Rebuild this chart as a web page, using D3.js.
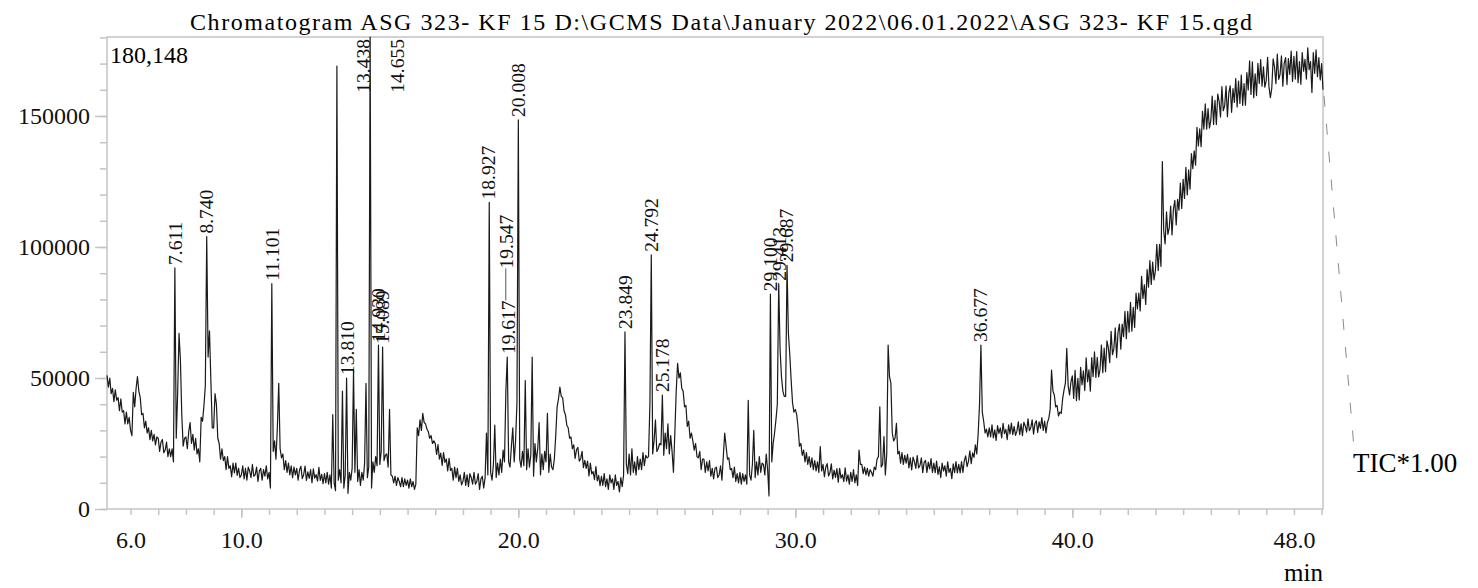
<!DOCTYPE html>
<html lang="en">
<head>
<meta charset="utf-8">
<title>Chromatogram ASG 323- KF 15</title>
<script src="https://cdn.jsdelivr.net/npm/d3@7"></script>
<style>
  body { margin: 0; background: #fff; }
  svg { display: block; }
  svg text { font-family: "Liberation Serif", "Noto Serif", "FreeSerif", "Nimbus Roman", "Times New Roman", Times, "DejaVu Serif", serif; }
  .frame { fill: none; stroke: #c4c4c4; stroke-width: 1.5; }
  .axis line { stroke: #c4c4c4; stroke-width: 1.5; }
  .axis text { fill: #111; }
  .trace { fill: none; stroke: #1a1a1a; stroke-width: 1.2; stroke-linejoin: round; }
  .peak text { font-size: 19.5px; fill: #111; }
  .lead { stroke: #555; stroke-width: 1; }
</style>
</head>
<body>
<script>
// ---- data ----
var title = "Chromatogram ASG 323- KF 15 D:\\GCMS Data\\January 2022\\06.01.2022\\ASG 323- KF 15.qgd";
var traceName = "TIC*1.00";
var yMax = 180148;

// scan grid (min)
var scanStart = 5.15, scanStep = 0.05;

// TIC intensity, thousands of counts, one row per minute
var ticK = [
  51, 46.5, 50, 44, 46, 41, 45.5, 41.5, 42.5, 37.5, 42, 37, 37.5, 32.5, 37, 32.5, 35,                        // 5.15-5.95
  30, 28, 44.5, 39, 46, 50.5, 45, 42.5, 36, 36.5, 31, 33.5, 29, 31, 26.5, 30, 26, 28.5, 24.5, 27.5,         // 6
  27, 22, 25.5, 26.5, 21.5, 22.5, 25.5, 20, 23, 20, 23, 18, 92, 27, 44, 67, 57, 36, 24, 27,                  // 7
  27.5, 23, 29.5, 33, 25, 28.5, 22.5, 27, 21, 23, 18, 35, 33.5, 39.5, 47, 104, 58, 68, 49, 31,              // 8
  31, 44, 40, 27, 25, 19, 23, 18.5, 20, 15, 20, 15.5, 16.5, 12.3, 17.5, 13.8, 17.5, 12.8, 15.6, 12,          // 9
  13, 16.5, 11.5, 15.5, 11, 16, 14.5, 12, 17, 12.5, 13, 16, 10.5, 14.5, 15.5, 11, 15, 12.5, 16.5, 11.5,     // 10
  14, 8, 86, 22, 26, 19, 31, 48, 23, 19.5, 21, 15, 18.5, 14, 17.5, 13, 16.5, 12, 16, 13,                     // 11
  15.5, 11, 14.8, 16.3, 11.6, 13.1, 16.4, 10.9, 14.2, 11.7, 15, 10, 15.3, 11.8, 13.1, 10.6, 15.9, 10.9, 13.2, 9.7, // 12
  13.5, 10, 14, 9.5, 13, 8, 36, 10, 7, 169, 11, 15, 10, 45, 8, 13, 50, 6, 14, 11,                            // 13
  15.5, 53, 14, 38, 10.5, 15, 9, 14, 11, 17.5, 48, 12, 16, 180.1, 8, 18, 14, 20, 16.5, 62.6,                // 14
  17, 22, 61.8, 18.5, 20.5, 21, 16, 38, 13, 12.5, 10, 12.5, 9, 12, 10.5, 8.5, 12, 8.5, 11.5, 9,             // 15
  11, 8, 11.5, 8.5, 10.5, 7.5, 9.5, 31, 28, 34, 30, 36.5, 33, 32.5, 30.5, 29.5, 27, 28, 25, 26,             // 16
  25, 20.8, 24.6, 19, 21.3, 16.6, 21.5, 17.8, 19.1, 14.5, 19.3, 14.7, 15.5, 11, 16, 12, 15.5, 10.5, 13, 9.2, // 17
  10.5, 14, 9, 13, 8.5, 13.5, 12, 9.5, 14, 9.5, 10.5, 13.5, 7.5, 11.5, 12.5, 8, 12, 29, 13, 117,           // 18
  14, 11, 17, 32, 12, 17.5, 13, 19, 14, 22.5, 18, 45, 58, 18, 16, 24, 31, 18, 26, 40.5,                     // 19
  148.5, 19, 16, 22, 16.5, 49, 15, 23, 16, 20.5, 58, 12.5, 25, 18, 23, 33, 13, 21, 15, 22,                  // 20
  18, 36.5, 14, 21, 16, 15, 19, 28, 39, 42, 46.5, 43, 42.5, 37.5, 36, 32, 31, 27, 27.5, 23,                 // 21
  24.5, 19.3, 22.6, 23.5, 18.3, 19.1, 22, 15.8, 18.6, 15.5, 18.3, 12.6, 17.5, 13.4, 14.3, 11.2, 16.2, 10.7, 12.8, 8.9, // 22
  12.5, 9, 13.5, 8.5, 11.5, 7.5, 13, 10, 11.5, 7.5, 13, 9, 10.5, 6.5, 12, 8.5, 13, 67.6, 17, 13.5,         // 23
  21, 13, 23, 14, 18, 13, 20, 15, 19, 15, 21.5, 16.5, 20.5, 19.5, 20, 40, 97, 21, 26, 34,                   // 24
  22, 23, 25, 24.5, 43.5, 20.5, 29, 23, 32.5, 21, 28, 22, 14, 29, 45, 55.6, 50, 52, 46, 45,                 // 25
  39, 39.5, 31.5, 33.5, 27, 29, 26, 22.5, 25, 20, 19.5, 22, 15, 19, 19, 14, 18, 14.5, 18.5, 12.5,           // 26
  15.5, 11.5, 15.5, 16, 12, 13, 16.5, 11, 20, 29, 24, 19, 19.5, 15, 15.5, 12, 16, 10.5, 13.5, 10,           // 27
  14, 9.5, 13.5, 10.5, 13, 9.5, 41.5, 13, 11, 17, 30, 12, 18, 13, 20, 14, 17.5, 17, 13, 21,                 // 28
  15, 5, 82, 18, 25, 29, 34, 40, 86, 61, 50.5, 45, 43, 43, 93, 67, 59, 49, 40.5, 37,                        // 29
  38, 36, 31, 24, 25, 20.5, 22.5, 18, 21.5, 17, 20, 16, 19.5, 15, 18.5, 14.5, 18, 14, 23.8, 14.5,           // 30
  17, 12.3, 16, 17.3, 12.6, 13.9, 17.2, 11.5, 14.8, 12.1, 15.4, 10.2, 15.5, 11.8, 13.1, 10.4, 15.7, 10.6, 13, 9.5, // 31
  14, 10.5, 15, 10, 13, 9, 22.5, 17, 17, 13.5, 16, 13, 15.5, 12.5, 15, 14, 12.5, 16, 15, 19,                // 32
  20, 39, 16, 17, 27.6, 13, 21, 62.6, 50.5, 48, 29, 26, 27, 32.7, 21, 22, 17.5, 21.5, 17, 20.5,             // 33
  17.5, 20.9, 15.7, 19.5, 14.9, 19.8, 18.1, 15.5, 20.4, 15.7, 16.6, 19.5, 13.9, 17.8, 18.6, 14, 17.9, 15.3, 19.2, 14, // 34
  17.5, 13.9, 18.3, 13.2, 16.1, 12, 17.5, 14.5, 16.5, 12.5, 18, 14, 15.5, 11.6, 17.2, 13.9, 18.1, 13.8, 17, 13.8, // 35
  18.1, 14, 18.4, 20.3, 16.2, 18.2, 22.2, 17.3, 21.4, 19.7, 24.5, 21, 28.5, 40, 62.6, 37, 33.5, 29, 30.5, 27.5, // 36
  31, 27.5, 32.1, 27.1, 30.2, 26.2, 31.8, 28.9, 31, 27.1, 32.7, 28.8, 30.4, 26.5, 32.1, 28.7, 32.8, 28.4, 31.5, 28.1, // 37
  29.7, 33.3, 28.4, 32.5, 28, 33.1, 31.7, 29.3, 34.4, 29.9, 31, 34, 28.6, 32.6, 33.7, 29.2, 33.3, 30.8, 34.9, 30, // 38
  33.5, 29, 33, 34.5, 38, 53, 45, 43.5, 39, 39.5, 35.5, 37, 36.5, 42, 45.4, 48, 61.3, 47, 43.5, 48.5,       // 39
  50.8, 42.2, 52.9, 41.4, 49.9, 41.6, 54.1, 47.4, 52.7, 45.2, 57.7, 48.6, 53.1, 45, 57.8, 50.5, 60, 50.2, 57.9, 50.4, // 40
  53.3, 62.6, 52, 61.4, 52.4, 64.2, 61.6, 55.9, 67.8, 58.9, 61.2, 69.1, 57.8, 67.4, 70.6, 61, 70.6, 65.8, 75.4, 65, // 41
  75.4, 67.5, 78.9, 67.9, 77, 69.3, 82.4, 76.4, 82.4, 75.6, 88.8, 80.4, 85.6, 78.1, 91.4, 84.7, 94.8, 85.7, 94.2, 87.4, // 42
  91, 101, 91, 101, 92.6, 132.6, 106.1, 101.2, 113.4, 104.8, 107.4, 115.6, 104.6, 114.4, 117.8, 108.4, 118.2, 114.1, 124.4, 114.7, // 43
  125.8, 118.5, 130.4, 119.9, 129.4, 122.1, 135.6, 129.9, 136.7, 131.2, 145.7, 138.6, 145.1, 138.3, 151.8, 145, 154.6, 145, 152.8, 145.4, // 44
  148.3, 157.6, 146.8, 156, 146.8, 158.4, 155.6, 149.6, 161.2, 152, 153.9, 161.4, 149.7, 158.8, 161.5, 151.4, 160.5, 155.2, 164.3, 153.4, // 45
  163.3, 154.8, 165.6, 154, 162.4, 154.1, 166.6, 159.9, 171, 158.2, 170.7, 157, 166.1, 157.8, 170.1, 162.4, 171.5, 161.4, 168.8, 161, // 46
  163.5, 172.4, 161.2, 157, 160.5, 171.8, 168.7, 162.3, 173.6, 164, 165.9, 173, 161.4, 170.2, 172.3, 162, 171.9, 165.9, 174.8, 163.2, // 47
  172.8, 164.1, 174.6, 162.7, 170.8, 162.1, 174.2, 167.1, 171.6, 164.1, 176, 167.7, 170.8, 159, 174.2, 166.3, 175.2, 165, 172.3, 163.8, // 48
  170, 160                                                                                                     // 49
];

// labelled peaks (retention time, min)
var peakTimes = [7.611, 8.740, 11.101, 13.438, 13.810, 14.655, 14.930, 15.089, 18.927, 19.547,
                 19.617, 20.008, 23.849, 24.792, 25.178, 29.100, 29.413, 29.687, 36.677];

// axis ticks
var yMajor = [0, 50000, 100000, 150000];
var yMinor = d3.range(0, yMax, 10000);
var xMajor = [10, 20, 30, 40];
var xMinor = d3.range(6, 50, 1);
var xLabels = [6, 10, 20, 30, 40, 48];

// ---- layout ----
var width = 1478, height = 588;
var plot = {left: 107, right: 1323, top: 37, bottom: 509};
var axisFont = 24;

var trace = ticK.map(function(v, i) {
    return {t: scanStart + i * scanStep, v: v * 1000};
});

var x = d3.scaleLinear()
    .domain([scanStart, trace[trace.length - 1].t])
    .range([plot.left, plot.right]);
var y = d3.scaleLinear()
    .domain([0, yMax])
    .range([plot.bottom, plot.top]);

var svg = d3.select("body").append("svg")
    .attr("width", width)
    .attr("height", height);

// title
svg.append("text")
    .attr("x", 721).attr("y", 30)
    .attr("text-anchor", "middle")
    .attr("textLength", 1062)
    .attr("lengthAdjust", "spacing")
    .style("font-size", "24px")
    .text(title);

// frame
svg.append("rect").attr("class", "frame")
    .attr("x", plot.left).attr("y", plot.top)
    .attr("width", plot.right - plot.left)
    .attr("height", plot.bottom - plot.top);

function styleAxis(g) {
    g.select(".domain").remove();
    g.attr("font-family", null).attr("font-size", null);
    g.selectAll("text").style("font-size", axisFont + "px");
}

// y axis
svg.append("g").attr("class", "axis")
    .attr("transform", "translate(" + plot.left + ",0)")
    .call(d3.axisLeft(y).tickValues(yMinor).tickSize(7).tickFormat(""))
    .call(styleAxis);
svg.append("g").attr("class", "axis")
    .attr("transform", "translate(" + plot.left + ",0)")
    .call(d3.axisLeft(y).tickValues(yMajor).tickSize(12).tickPadding(5).tickFormat(d3.format("d")))
    .call(styleAxis);

// x axis
svg.append("g").attr("class", "axis")
    .attr("transform", "translate(0," + plot.bottom + ")")
    .call(d3.axisBottom(x).tickValues(xMinor).tickSize(6).tickFormat(""))
    .call(styleAxis);
svg.append("g").attr("class", "axis")
    .attr("transform", "translate(0," + plot.bottom + ")")
    .call(d3.axisBottom(x).tickValues(xMajor).tickSize(9).tickFormat(""))
    .call(styleAxis);
svg.append("g").attr("class", "axis")
    .attr("transform", "translate(0," + plot.bottom + ")")
    .call(d3.axisBottom(x).tickValues(xLabels).tickSize(0).tickPadding(22).tickFormat(d3.format(".1f")))
    .call(styleAxis);

svg.append("text")
    .attr("x", plot.right).attr("y", 581)
    .attr("text-anchor", "end")
    .style("font-size", "25px")
    .text("min");

// max intensity
svg.append("text")
    .attr("x", plot.left + 3).attr("y", 63)
    .style("font-size", axisFont + "px")
    .text(d3.format(",")(yMax));

// trace
var line = d3.line()
    .x(function(d) { return x(d.t); })
    .y(function(d) { return y(d.v); });

svg.append("path").datum(trace)
    .attr("class", "trace")
    .attr("d", line);

// trace name with dashed leader
var last = trace[trace.length - 1];
var namePos = {x: 1353, y: 472};
svg.append("line")
    .attr("x1", x(last.t) + 1).attr("y1", y(last.v) + 6)
    .attr("x2", namePos.x + 1).attr("y2", namePos.y - 24)
    .attr("stroke", "#8a8a8a")
    .attr("stroke-dasharray", "11,17");
svg.append("text")
    .attr("x", namePos.x).attr("y", namePos.y)
    .style("font-size", "27px")
    .text(traceName);

// peak labels
var gPeaks = svg.append("g").attr("class", "peak");
var peaks = peakTimes.map(function(t) {
    var near = trace.filter(function(d) { return Math.abs(d.t - t) <= 0.051; });
    return {t: t, text: d3.format(".3f")(t), top: d3.max(near, function(d) { return d.v; })};
});

var probe = gPeaks.append("text").text("00.000");
var labelLen = probe.node().getComputedTextLength();
probe.remove();

var placed = [];
peaks.slice().sort(function(a, b) { return b.top - a.top; }).forEach(function(p) {
    var px = x(p.t);
    var start = y(p.top) - 3;
    if (start - labelLen < plot.top) {
        // no room above the peak: put it beside, against the top
        px += 27;
        start = plot.top + 2 + labelLen;
    }
    var hit = placed.find(function(q) {
        return Math.abs(q.x - px) < 3 && start > q.end && start - labelLen < q.start;
    });
    if (hit) {
        start = hit.end - 32;
        gPeaks.append("line").attr("class", "lead")
            .attr("x1", px).attr("x2", px)
            .attr("y1", hit.end).attr("y2", start);
    }
    placed.push({x: px, start: start, end: start - labelLen});
    gPeaks.append("text")
        .attr("transform", "translate(" + px + "," + start + ") rotate(-90)")
        .attr("dy", "0.35em")
        .text(p.text);
});
</script>
</body>
</html>
